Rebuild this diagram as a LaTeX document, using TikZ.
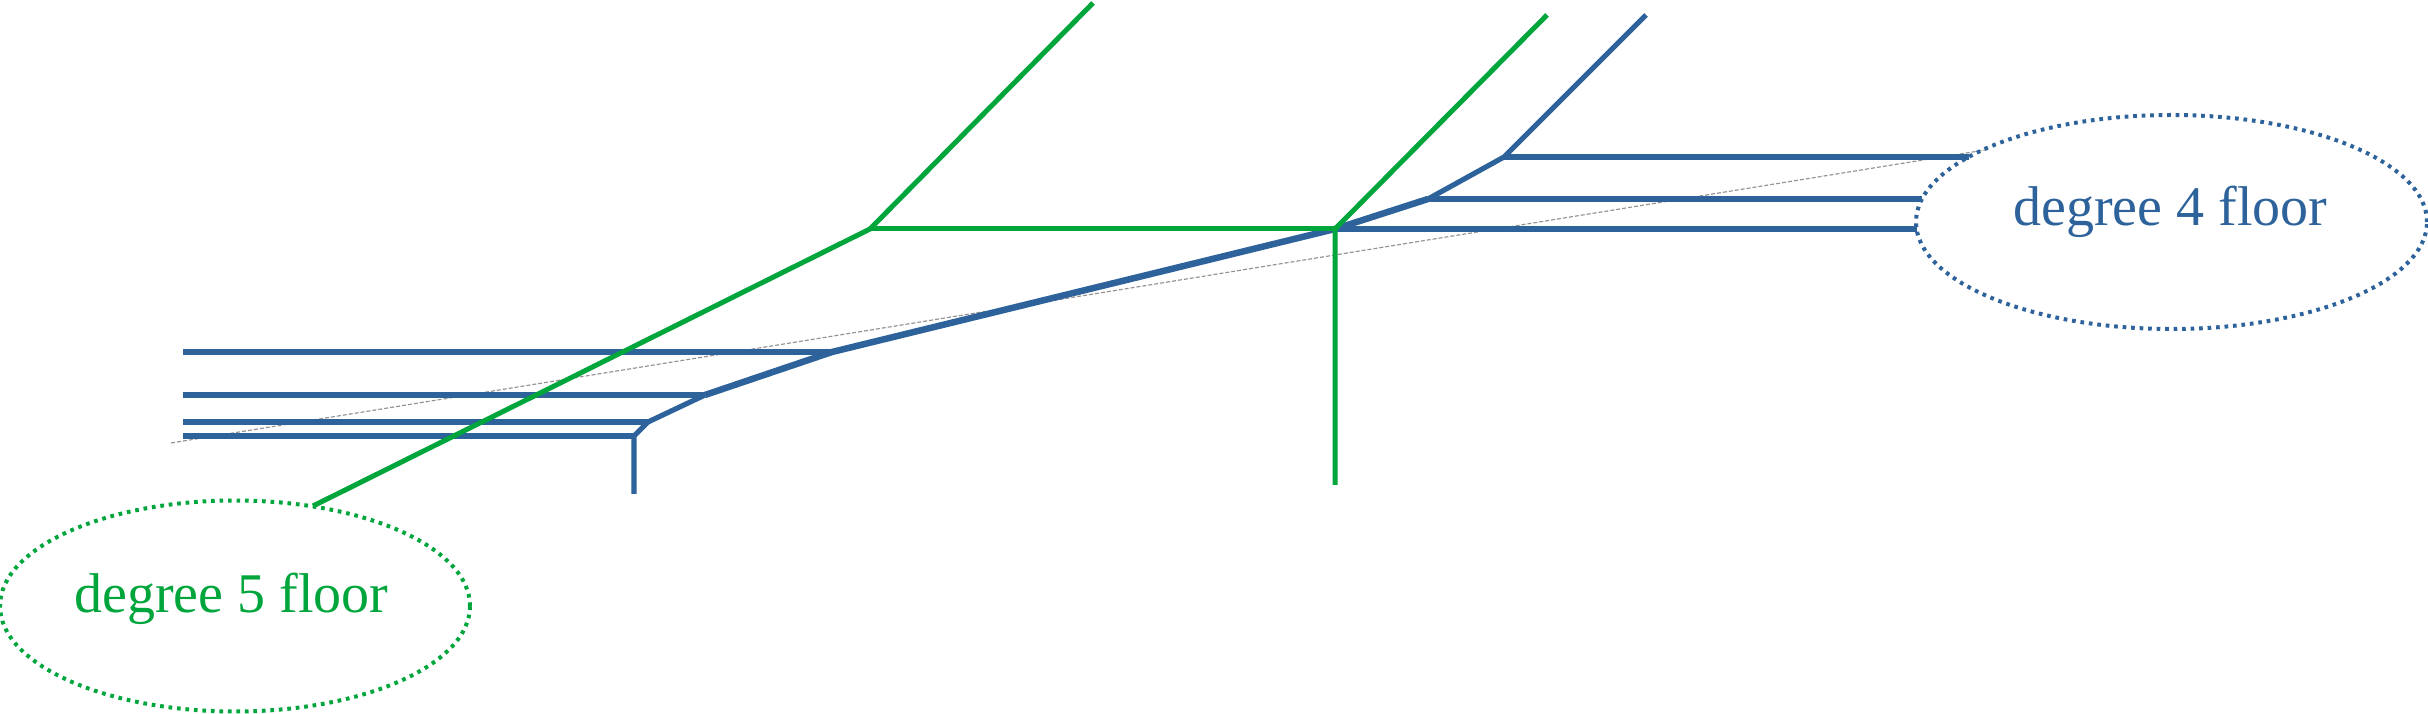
\documentclass[tikz,border=0pt]{standalone}
\usepackage{fontspec}
\setmainfont{Liberation Serif}
\usetikzlibrary{shapes.geometric}
\definecolor{fblue}{RGB}{45,98,155}
\definecolor{fgreen}{RGB}{0,165,60}
\tikzset{
  bedge/.style={draw=fblue, line width=1.55pt},
  bthick/.style={draw=fblue, line width=1.95pt},
  gedge/.style={draw=fgreen, line width=1.5pt},
  guide/.style={draw=gray!85, line width=0.35pt, dash pattern=on 1.2pt off 0.6pt},
  floorell/.style={ellipse, line width=1.2pt, dash pattern=on 1.1pt off 1.45pt, inner sep=0pt},
  floortext/.style={anchor=base, font=\fontsize{16.8}{20}\selectfont, inner sep=0pt}
}
\begin{document}
\begin{tikzpicture}[x=0.3pt, y=-0.3pt]
\useasboundingbox (0,0) rectangle (2428,714);
% green vertices
\coordinate (g1) at (870,229);
\coordinate (g2) at (1335,229);
\coordinate (g1up) at (1093,3);
\coordinate (g1dn) at (313,506);
\coordinate (g2up) at (1547,15);
\coordinate (g2dn) at (1335,485);
% blue vertices
\coordinate (btop) at (1646,15);
\coordinate (b1) at (1504,157);
\coordinate (b2) at (1428,199);
\coordinate (b3) at (832,352);
\coordinate (b4) at (705,395);
\coordinate (b5) at (648,422);
\coordinate (b6) at (634,436);
\coordinate (b6dn) at (634,494);
\coordinate (r1) at (1969,157);
\coordinate (r2) at (1922,199);
\coordinate (r3) at (1917,229);
\coordinate (l3) at (183,352);
\coordinate (l4) at (183,395);
\coordinate (l5) at (183,422);
\coordinate (l6) at (183,436);
% guide line
\coordinate (gd1) at (171,443);
\coordinate (gd2) at (1985,150);
\draw[guide] (gd1) -- (gd2);
% ellipses
\node[floorell, draw=fblue, minimum width=153.3pt, minimum height=64.2pt] (e4) at (2171.5,222) {};
\node[floorell, draw=fgreen, minimum width=141pt, minimum height=63.3pt] (e5) at (235,606) {};
\node[floortext, text=fblue] (t4) at (2170.5,226) {degree 4 floor};
\node[floortext, text=fgreen] (t5) at (231.5,613) {degree 5 floor};
% blue tree
\draw[bedge] (btop) -- (b1) -- (b2);
\draw[bthick] (b2) -- (g2) -- (b3) -- (b4);
\draw[bedge] (b4) -- (b5) -- (b6) -- (b6dn);
\draw[bedge] (b1) -- (r1);
\draw[bedge] (b2) -- (r2);
\draw[bedge] (g2) -- (r3);
\draw[bedge] (b3) -- (l3);
\draw[bedge] (b4) -- (l4);
\draw[bedge] (b5) -- (l5);
\draw[bedge] (b6) -- (l6);
% green tree
\draw[gedge] (g1up) -- (g1) -- (g1dn);
\draw[gedge] (g1) -- (g2);
\draw[gedge] (g2up) -- (g2) -- (g2dn);
\end{tikzpicture}
\end{document}
